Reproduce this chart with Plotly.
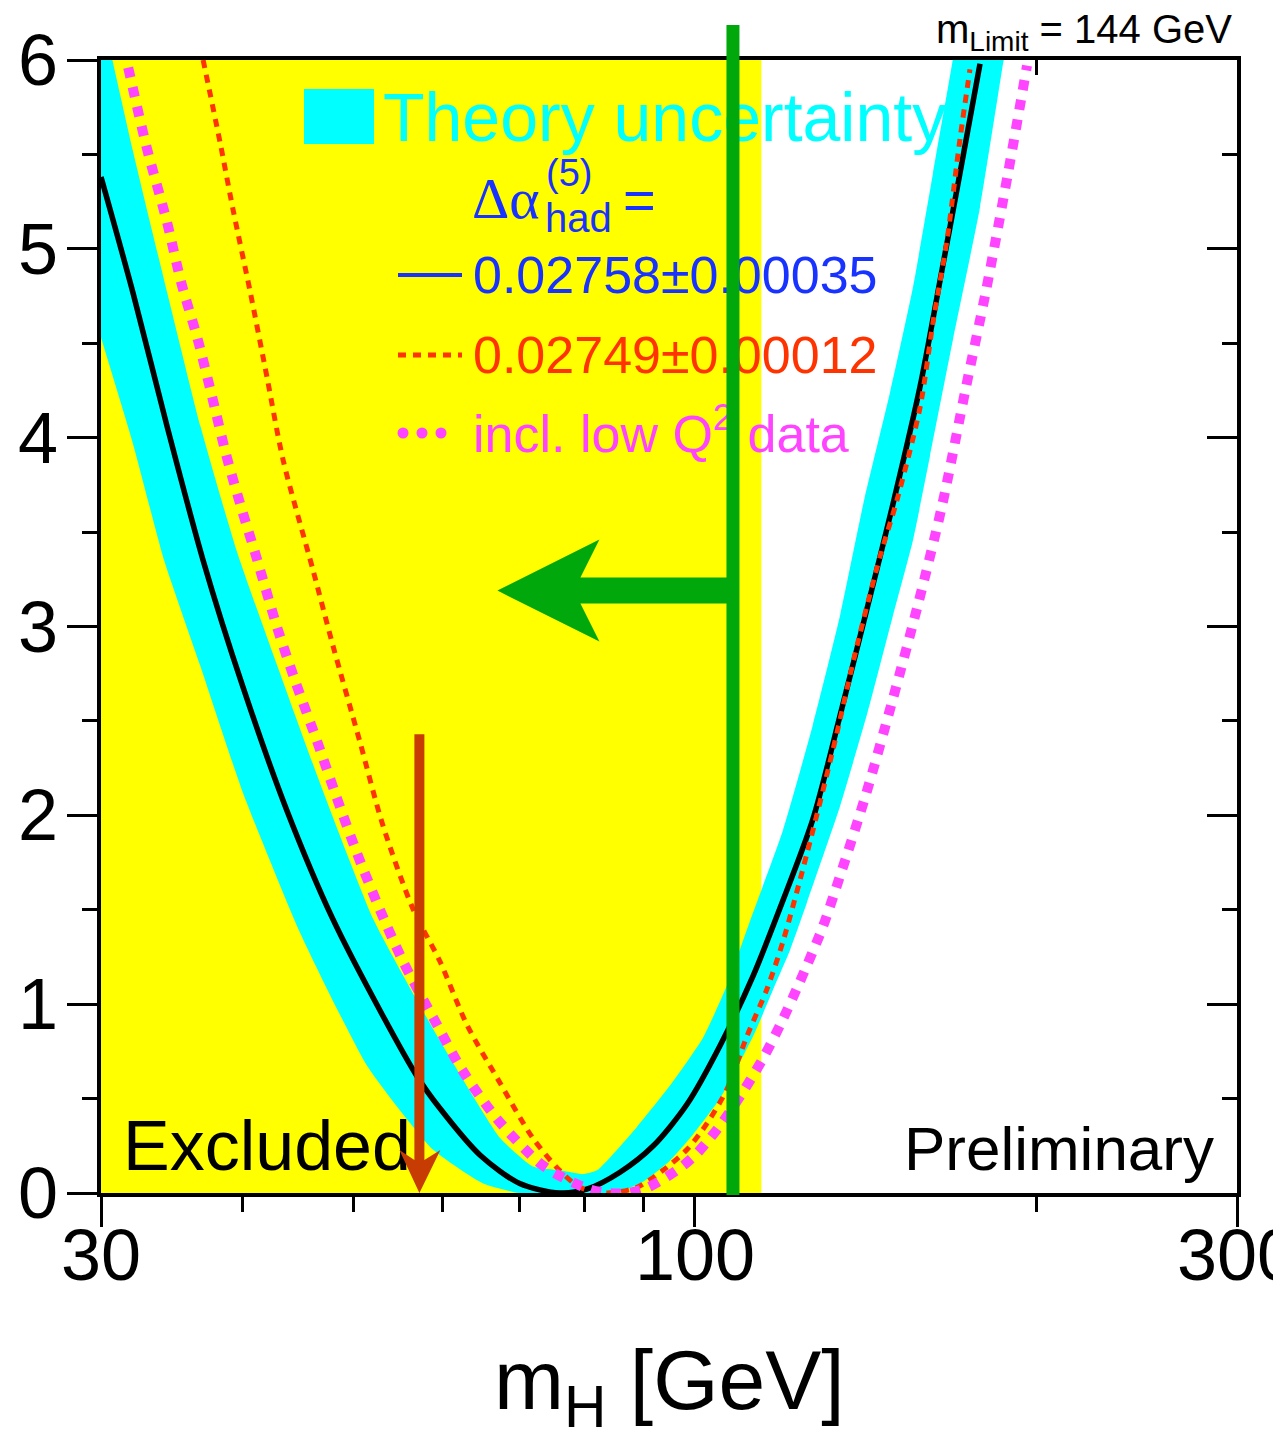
import math
import plotly.graph_objects as go

# ---------------- data ----------------
# Delta chi^2 vs m_H, Delta alpha_had = 0.02758 +- 0.00035 (black line)
BLACK_M = [30.0, 32.0, 34.3, 36.9, 40.0, 43.7, 48.0, 53.1, 56.9, 59.6, 64.7, 70.1, 76.0, 80.3,
           85.9, 91.9, 98.4, 105.2, 112.5, 119.0, 127.0, 134.2, 141.8, 149.4, 157.8, 164.3,
           171.1, 178.2]
BLACK_D = [5.38, 4.77, 4.06, 3.35, 2.68, 2.03, 1.45, 0.94, 0.62, 0.45, 0.20, 0.05, 0.00, 0.02,
           0.11, 0.25, 0.47, 0.78, 1.15, 1.52, 1.98, 2.53, 3.10, 3.65, 4.27, 4.83,
           5.40, 5.98]

# theory-uncertainty band: lower and upper envelopes
BAND_LO_M = [30.0, 32.0, 34.1, 36.7, 40.0, 44.9, 51.5, 58.8, 65.1, 70.0, 85.0, 90.0, 95.0,
             99.6, 105.2, 112.5, 117.2, 121.3, 125.5, 134.2, 141.8, 149.4, 155.6, 161.0,
             168.7, 178.2, 186.7, 190.5]
BAND_LO_D = [4.53, 3.97, 3.35, 2.79, 2.12, 1.38, 0.67, 0.23, 0.05, 0.00, 0.00, 0.06, 0.17,
             0.31, 0.50, 0.83, 1.08, 1.29, 1.54, 2.05, 2.54, 3.06, 3.46, 3.90,
             4.52, 5.22, 5.98, 6.30]
BAND_HI_M = [30.0, 30.7, 32.0, 34.3, 36.7, 39.5, 42.9, 46.5, 52.1, 58.8, 67.4, 72.0, 76.0,
             79.7, 82.0, 88.9, 95.1, 101.6, 106.7, 111.8, 119.5, 127.0, 134.2, 140.9,
             148.5, 155.6, 162.0, 168.4, 171.6]
BAND_HI_D = [6.26, 6.00, 5.52, 4.77, 4.06, 3.40, 2.79, 2.21, 1.45, 0.87, 0.29, 0.14, 0.12,
             0.10, 0.12, 0.35, 0.57, 0.82, 1.10, 1.44, 1.92, 2.48, 3.06, 3.67,
             4.24, 4.80, 5.40, 5.98, 6.28]

# Delta alpha_had = 0.02749 +- 0.00012 (red dashed)
RED_M = [36.9, 38.2, 39.2, 40.6, 42.0, 43.4, 46.1, 48.0, 50.7, 53.1, 56.5, 59.6, 63.0, 67.4,
         72.0, 76.0, 79.2, 83.7, 88.9, 93.7, 98.4, 102.5, 106.7, 111.1, 115.7, 119.5, 125.5,
         132.3, 138.9, 145.5, 150.6, 157.8, 162.0, 166.7, 171.1, 174.6]
RED_D = [6.00, 5.56, 5.21, 4.77, 4.32, 3.88, 3.30, 2.90, 2.39, 1.95, 1.50, 1.23, 0.89, 0.58,
         0.29, 0.12, 0.03, 0.00, 0.03, 0.12, 0.23, 0.37, 0.55, 0.83, 1.08, 1.33, 1.80,
         2.35, 2.90, 3.37, 3.67, 4.16, 4.61, 5.05, 5.58, 5.95]

# incl. low Q^2 data (magenta dotted)
MAG_M = [31.7, 32.9, 34.3, 35.3, 36.5, 37.6, 38.7, 40.0, 41.0, 42.9, 44.6, 46.5, 48.4, 50.4,
         52.8, 55.4, 58.8, 62.4, 67.0, 72.6, 75.0, 80.7, 83.8, 87.3, 90.9, 94.1, 97.4, 100.4,
         103.1, 105.6, 110.6, 115.2, 119.5, 123.5, 129.4, 134.7, 141.4, 149.4, 157.2, 165.0,
         173.1, 180.4, 188.6, 196.0]
MAG_D = [5.96, 5.54, 5.14, 4.82, 4.52, 4.21, 3.90, 3.60, 3.39, 2.99, 2.69, 2.39, 2.09, 1.80,
         1.50, 1.22, 0.93, 0.65, 0.39, 0.17, 0.11, 0.02, 0.00, 0.00, 0.03, 0.08, 0.14, 0.21,
         0.29, 0.37, 0.55, 0.73, 0.92, 1.11, 1.40, 1.71, 2.11, 2.62, 3.12, 3.64,
         4.26, 4.78, 5.40, 5.97]

X_TICKS = [30, 100, 300]
X_TICK_TEXT = ["30", "100", "300"]
X_MINOR = [40, 50, 60, 70, 80, 90, 200]
Y_TICKS = [0, 1, 2, 3, 4, 5, 6]
Y_TICK_TEXT = ["0", "1", "2", "3", "4", "5", "6"]
Y_MINOR = [0.5, 1.5, 2.5, 3.5, 4.5, 5.5]
X_RANGE = [30, 300]
Y_RANGE = [0, 6]

EXCLUDED_LIMIT = 114.4     # end of the excluded (yellow) region
GREEN_LINE_MH = 108.0      # green vertical line
GREEN_ARROW_TIP = 67.0     # tip of green arrow
GREEN_ARROW_D = 3.19       # height of green arrow
RED_ARROW_MH = 57.2        # orange vertical arrow
RED_ARROW_TOP = 2.43

# ---------------- styling ----------------
W, H = 1273, 1432
L, R, T, B = 101, 36, 60, 239
PW, PH = W - L - R, H - T - B
SANS = "Liberation Sans, Arial, Helvetica, sans-serif"
SERIF = "Liberation Serif, Times New Roman, serif"
CYAN = "#00FFFF"
YELLOW = "#FFFF00"
BLUE = "#1832FF"
RED = "#FF3300"
MAG = "#FF44FF"
GREEN = "#00A80B"
ORANGE = "#C63C02"

DEC_PX = PW / math.log10(X_RANGE[1] / X_RANGE[0])   # pixels per decade
D_PX = PH / (Y_RANGE[1] - Y_RANGE[0])                # pixels per unit


def xp(px):
    return (px - L) / PW


def yp(py):
    return (H - B - py) / PH


def m_off(m, dpx):
    return m * 10 ** (dpx / DEC_PX)


def d_off(d, dpx_up):
    return d + dpx_up / D_PX


fig = go.Figure()

# band
band_x = BAND_LO_M + BAND_HI_M[::-1]
band_y = BAND_LO_D + BAND_HI_D[::-1]
fig.add_trace(go.Scatter(x=band_x, y=band_y, fill="toself", fillcolor=CYAN, mode="lines",
                         line=dict(width=0, color=CYAN, shape="spline", smoothing=0.5),
                         hoverinfo="skip"))
fig.add_trace(go.Scatter(x=BLACK_M, y=BLACK_D, mode="lines",
                         line=dict(color="black", width=5.5, shape="spline", smoothing=0.8),
                         hoverinfo="skip"))
fig.add_trace(go.Scatter(x=RED_M, y=RED_D, mode="lines",
                         line=dict(color=RED, width=5, dash="8px,7px", shape="spline",
                                   smoothing=0.8), hoverinfo="skip"))
fig.add_trace(go.Scatter(x=MAG_M, y=MAG_D, mode="lines",
                         line=dict(color=MAG, width=10, dash="10px,10px", shape="spline",
                                   smoothing=0.8), hoverinfo="skip"))

# texts inside the frame (drawn on an overlay subplot with 0..1 coordinates)
texts = [
    ("Theory uncertainty", 383, 124, CYAN, 68, SANS, "middle right"),
    ("Δα", 472, 203, BLUE, 58, SERIF, "middle right"),
    ("(5)", 546, 176, BLUE, 38, SANS, "middle right"),
    ("had", 545, 222, BLUE, 40, SANS, "middle right"),
    ("=", 623, 205, BLUE, 56, SANS, "middle right"),
    ("0.02758±0.00035", 473, 280, BLUE, 52, SANS, "middle right"),
    ("0.02749±0.00012", 473, 360, RED, 52, SANS, "middle right"),
    ("incl. low Q<sup>2</sup> data", 473, 439, MAG, 52, SANS, "middle right"),
    ("Excluded", 123, 1152, "black", 70, SANS, "middle right"),
    ("Preliminary", 1214, 1154, "black", 62, SANS, "middle left"),
]
for txt, px, py, col, size, fam, pos in texts:
    fig.add_trace(go.Scatter(x=[xp(px)], y=[yp(py)], mode="text", text=[txt],
                             textposition=pos, textfont=dict(color=col, size=size, family=fam),
                             xaxis="x2", yaxis="y2", cliponaxis=False, hoverinfo="skip"))

# arrows (overlay subplot x3/y3 shares the data ranges)
g_tip = GREEN_ARROW_TIP
g_pts = [
    (g_tip, GREEN_ARROW_D),
    (m_off(g_tip, 102), d_off(GREEN_ARROW_D, 51)),
    (m_off(g_tip, 83), d_off(GREEN_ARROW_D, 13)),
    (GREEN_LINE_MH, d_off(GREEN_ARROW_D, 13)),
    (GREEN_LINE_MH, d_off(GREEN_ARROW_D, -13)),
    (m_off(g_tip, 83), d_off(GREEN_ARROW_D, -13)),
    (m_off(g_tip, 102), d_off(GREEN_ARROW_D, -51)),
    (g_tip, GREEN_ARROW_D),
]
fig.add_trace(go.Scatter(x=[p[0] for p in g_pts], y=[p[1] for p in g_pts], fill="toself",
                         fillcolor=GREEN, mode="lines", line=dict(width=0, color=GREEN),
                         xaxis="x3", yaxis="y3", hoverinfo="skip"))
r_pts = [
    (m_off(RED_ARROW_MH, -5), RED_ARROW_TOP),
    (m_off(RED_ARROW_MH, 5), RED_ARROW_TOP),
    (m_off(RED_ARROW_MH, 5), d_off(0, 33)),
    (m_off(RED_ARROW_MH, 21), d_off(0, 43)),
    (RED_ARROW_MH, 0.0),
    (m_off(RED_ARROW_MH, -20), d_off(0, 43)),
    (m_off(RED_ARROW_MH, -5), d_off(0, 33)),
    (m_off(RED_ARROW_MH, -5), RED_ARROW_TOP),
]
fig.add_trace(go.Scatter(x=[p[0] for p in r_pts], y=[p[1] for p in r_pts], fill="toself",
                         fillcolor=ORANGE, mode="lines", line=dict(width=0, color=ORANGE),
                         xaxis="x3", yaxis="y3", hoverinfo="skip"))

shapes = [
    dict(type="rect", xref="x", yref="y", x0=X_RANGE[0], x1=EXCLUDED_LIMIT, y0=Y_RANGE[0],
         y1=Y_RANGE[1], fillcolor=YELLOW, line=dict(width=0), layer="below"),
    dict(type="rect", xref="paper", yref="paper", x0=xp(304), x1=xp(374), y0=yp(144),
         y1=yp(89), fillcolor=CYAN, line=dict(width=0)),
    dict(type="line", xref="paper", yref="paper", x0=xp(398), x1=xp(462), y0=yp(275),
         y1=yp(275), line=dict(color=BLUE, width=4)),
    dict(type="line", xref="paper", yref="paper", x0=xp(398), x1=xp(462), y0=yp(355),
         y1=yp(355), line=dict(color=RED, width=5, dash="8px,7px")),
    dict(type="line", xref="x", yref="paper", x0=GREEN_LINE_MH, x1=GREEN_LINE_MH,
         y0=yp(1195), y1=yp(25), line=dict(color=GREEN, width=13)),
]
for cx in (403, 422, 441):
    shapes.append(dict(type="circle", xref="paper", yref="paper", x0=xp(cx - 5.5),
                       x1=xp(cx + 5.5), y0=yp(433 + 5.5), y1=yp(433 - 5.5),
                       fillcolor=MAG, line=dict(width=0)))

TICK_FONT = dict(size=72, color="black", family=SANS)
annotations = [
    dict(text="m<sub>Limit</sub> = 144 GeV", xref="paper", yref="paper", x=xp(1234),
         y=yp(32), xanchor="right", yanchor="middle", showarrow=False,
         font=dict(size=40, color="black", family=SANS)),
    dict(text="m<sub>H</sub> [GeV]", xref="paper", yref="paper", x=xp(669), y=yp(1386),
         xanchor="center", yanchor="middle", showarrow=False,
         font=dict(size=84, color="black", family=SANS)),
]
# tick labels (placed through the axes' own coordinates)
for v, t in zip(X_TICKS, X_TICK_TEXT):
    annotations.append(dict(text=t, xref="x", yref="paper", x=math.log10(v), y=yp(1255),
                            xanchor="center", yanchor="middle", showarrow=False,
                            font=TICK_FONT))
for v, t in zip(Y_TICKS, Y_TICK_TEXT):
    annotations.append(dict(text=t, xref="paper", yref="y", x=xp(60), y=v,
                            xanchor="right", yanchor="middle", showarrow=False,
                            font=TICK_FONT))

lr = [math.log10(X_RANGE[0]), math.log10(X_RANGE[1])]
axis_common = dict(showgrid=False, zeroline=False, showline=True, linecolor="black",
                   linewidth=4, tickcolor="black", tickwidth=3)

fig.update_layout(
    width=W, height=H, margin=dict(l=L, r=R, t=T, b=B, pad=0),
    paper_bgcolor="white", plot_bgcolor="white", showlegend=False,
    shapes=shapes, annotations=annotations,
    xaxis=dict(type="log", range=lr, tickmode="array", tickvals=X_TICKS, ticktext=X_TICK_TEXT,
               ticks="outside", ticklen=30, showticklabels=False,
               minor=dict(tickmode="array", tickvals=X_MINOR, ticks="outside", ticklen=15,
                          tickwidth=3, tickcolor="black", showgrid=False),
               **axis_common),
    yaxis=dict(range=Y_RANGE, tickmode="array", tickvals=Y_TICKS, ticks="outside", ticklen=30,
               showticklabels=False,
               minor=dict(tickmode="array", tickvals=Y_MINOR, ticks="outside", ticklen=15,
                          tickwidth=3, tickcolor="black", showgrid=False),
               **axis_common),
    xaxis2=dict(range=[0, 1], overlaying="x", anchor="y2", visible=False),
    yaxis2=dict(range=[0, 1], overlaying="y", anchor="x2", visible=False),
    xaxis3=dict(type="log", range=lr, overlaying="x", side="top", anchor="y3",
                tickmode="array", tickvals=[200], ticks="inside", ticklen=15,
                showticklabels=False, **axis_common),
    yaxis3=dict(range=Y_RANGE, overlaying="y", side="right", anchor="x3", tickmode="array",
                tickvals=Y_TICKS, ticks="inside", ticklen=30, showticklabels=False,
                minor=dict(tickmode="array", tickvals=Y_MINOR, ticks="inside", ticklen=15,
                           tickwidth=3, tickcolor="black", showgrid=False),
                **axis_common),
)

fig.write_html("out.html", config={"displayModeBar": False},
               post_script="document.body.style.margin='0';")
